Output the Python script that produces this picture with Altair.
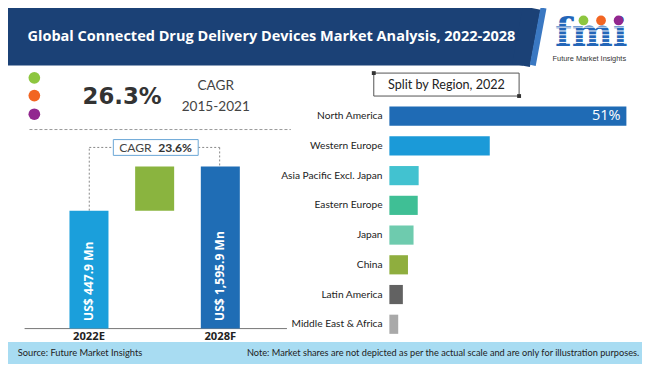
import altair as alt
import pandas as pd

# ---------------- data ----------------
title_text = "Global Connected Drug Delivery Devices Market Analysis, 2022-2028"
cagr_hist = "26.3%"
cagr_hist_label = "CAGR"
cagr_hist_period = "2015-2021"
cagr_fcst = "23.6%"

wf_order = ["2022E", "Growth", "2028F"]
wf_years = ["2022E", "2028F"]
wf_values = [447.9, 1595.9]
wf_value_text = ["US$ 447.9 Mn", "US$ 1,595.9 Mn"]
wf_colors = ["#1b9fdb", "#1f6db5"]
incr_color = "#8ab43f"

regions = ["North America", "Western Europe", "Asia Pacific Excl. Japan",
           "Eastern Europe", "Japan", "China", "Latin America", "Middle East & Africa"]
shares = [51, 21.6, 6.3, 6.1, 5.2, 4.0, 2.9, 1.9]
share_text = ["51%", "", "", "", "", "", "", ""]
region_colors = ["#1f6bb5", "#1b9ad8", "#42c2d0", "#3fbf95",
                 "#6ecbae", "#8fae3e", "#626262", "#a9a9a9"]

source_text = "Source: Future Market Insights"
note_text = "Note: Market shares are not depicted as per the actual scale and are only for illustration purposes."

# ---------------- layout helpers ----------------
W, H = 634, 356
SX, SY = W / 650, H / 372
def X(v): return round(v * SX, 2)
def Y(v): return round(v * SY, 2)
def F(v): return round(v * 0.97, 1)

one = pd.DataFrame({"k": [0]})
SANS = "Lato"

def txt(s, x, y, size, color="#333333", weight="normal", align="center",
        font=SANS, baseline="middle"):
    return alt.Chart(one).mark_text(
        text=s, fontSize=F(size), color=color, fontWeight=weight, align=align,
        font=font, baseline=baseline
    ).encode(x=alt.value(X(x)), y=alt.value(Y(y)))

def rule(x1, y1, x2, y2, color, width=1.0, dash=None, cap="butt"):
    kw = dict(color=color, strokeWidth=width, strokeCap=cap)
    if dash:
        kw["strokeDash"] = dash
    return alt.Chart(one).mark_rule(**kw).encode(
        x=alt.value(X(x1)), y=alt.value(Y(y1)), x2=alt.value(X(x2)), y2=alt.value(Y(y2)))

def rect(x1, y1, x2, y2, fill, stroke=None, sw=0):
    kw = dict(color=fill)
    if stroke:
        kw.update(stroke=stroke, strokeWidth=sw)
    return alt.Chart(one).mark_rect(**kw).encode(
        x=alt.value(X(x1)), y=alt.value(Y(y1)), x2=alt.value(X(x2)), y2=alt.value(Y(y2)))

def dot(x, y, d, color):
    return alt.Chart(one).mark_circle(size=(d * SX) ** 2, color=color, opacity=1).encode(
        x=alt.value(X(x)), y=alt.value(Y(y)))

# ---------------- header / footer ----------------
deco_back = [
    rect(0, 0, 528, 60, "#1b4176"),
    rule(537, 0, 526, 60, "#1b4176", 18),
    rule(549, 0, 538, 60, "#3a78c2", 6),
    rect(0, 349, 650, 372, "#a8dcf2"),
]

title = txt(title_text, 20, 30, 14.9, color="white", weight="bold", align="left", font="Open Sans")

logo = [
    txt("fmi", 598, 39.5, 40, color="#2366b8", weight="bold", font="DejaVu Serif", baseline="alphabetic"),
] + [rule(553, yy, 645, yy, "white", 1.0) for yy in (16, 20, 24, 28, 32, 36)] + [
    dot(590, 13, 10, "#8dc63f"),
    dot(608, 13, 10, "#f26522"),
    dot(626, 13, 10, "#92278f"),
    txt("Future Market Insights", 596, 53, 7.6, color="#333333", font="Liberation Sans"),
]

# ---------------- left panel decorations ----------------
left_deco = [
    dot(27, 73, 12, "#8dc63f"),
    dot(27, 91.5, 12, "#f26522"),
    dot(27, 111, 12, "#92278f"),
    txt(cagr_hist, 117, 93, 23.5, color="#333333", weight="bold", font="DejaVu Sans"),
    txt(cagr_hist_label, 213, 81, 14, color="#444444"),
    txt(cagr_hist_period, 213, 103, 14, color="#444444"),
    rule(22, 127, 290, 127, "#999999", 1, dash=[3, 2]),
    rule(83.3, 147, 83.3, 212, "#888888", 1, dash=[2, 2]),
    rule(83.3, 145.7, 108, 145.7, "#888888", 1, dash=[2, 2]),
    rule(195, 145.7, 217, 145.7, "#888888", 1, dash=[2, 2]),
    rule(217, 145.7, 217, 165, "#888888", 1, dash=[2, 2]),
    rect(108, 137.5, 195, 154, "white", stroke="#6aa7d6", sw=1),
    txt("CAGR", 114, 146, 12.5, color="#444444", align="left"),
    txt(cagr_fcst, 154, 146, 12.5, color="#333333", weight="bold", align="left"),
    rule(17, 335, 286, 335, "#777777", 1),
]

# ---------------- waterfall ----------------
wf_x = alt.Scale(domain=wf_order, range=[X(49.35), X(251.35)],
                 paddingInner=0.406, paddingOuter=0.203)
wf_y = alt.Scale(type="log", domain=[15.3, 1595.9], range=[Y(335), Y(165.7)], nice=False)

df_wf = pd.DataFrame({"year": wf_years, "value": wf_values,
                      "txt": wf_value_text, "color": wf_colors})
df_inc = pd.DataFrame({"year": ["Growth"], "from": [wf_values[0]], "to": [wf_values[1]]})

wf_bars = alt.Chart(df_wf).mark_bar().encode(
    x=alt.X("year:N", scale=wf_x, axis=None),
    y=alt.Y("value:Q", scale=wf_y, axis=None, stack=None),
    y2=alt.value(Y(335)),
    color=alt.Color("color:N", scale=None, legend=None),
)
wf_inc = alt.Chart(df_inc).mark_bar(color=incr_color).encode(
    x=alt.X("year:N", scale=wf_x, axis=None),
    y=alt.Y("to:Q", scale=wf_y, axis=None),
    y2="from:Q",
)
wf_vals = alt.Chart(df_wf).mark_text(
    angle=270, align="left", baseline="middle", color="white",
    fontWeight="bold", fontSize=F(12.5), font="Open Sans"
).encode(
    x=alt.X("year:N", scale=wf_x, axis=None),
    y=alt.value(Y(327)),
    text="txt:N",
)
wf_lbls = alt.Chart(df_wf).mark_text(
    baseline="middle", color="#222222", fontWeight="bold", fontSize=F(11.5), font="Open Sans"
).encode(
    x=alt.X("year:N", scale=wf_x, axis=None),
    y=alt.value(Y(344)),
    text="year:N",
)
waterfall = alt.layer(wf_bars, wf_inc, wf_vals, wf_lbls)

# ---------------- region bars ----------------
reg_x = alt.Scale(domain=[0, 51], range=[X(391), X(634)], nice=False, zero=True)
reg_y = alt.Scale(domain=regions, range=[Y(97.5), Y(346)],
                  paddingInner=0.355, paddingOuter=0.1775)

df_reg = pd.DataFrame({"region": regions, "share": shares,
                       "label": share_text, "color": region_colors})

reg_bars = alt.Chart(df_reg).mark_bar().encode(
    x=alt.X("share:Q", scale=reg_x, axis=None),
    y=alt.Y("region:N", scale=reg_y, axis=None),
    color=alt.Color("color:N", scale=None, legend=None),
)
reg_lbls = alt.Chart(df_reg).mark_text(
    align="right", baseline="middle", color="#222222", fontSize=F(10.5), font=SANS
).encode(
    x=alt.value(X(384)),
    y=alt.Y("region:N", scale=reg_y, axis=None),
    text="region:N",
)
reg_pct = alt.Chart(df_reg).mark_text(
    align="right", baseline="middle", color="white", fontSize=F(15), font="Open Sans"
).encode(
    x=alt.value(X(628)),
    y=alt.Y("region:N", scale=reg_y, axis=None),
    text="label:N",
)
region_chart = alt.layer(reg_bars, reg_lbls, reg_pct)

right_deco = [
    rect(375, 68, 524, 92, "white", stroke="#555555", sw=1),
    rect(373, 66, 377, 70, "#333333"),
    rect(522, 90, 526, 94, "#333333"),
    txt("Split by Region, 2022", 449.5, 80, 13, color="#222222", font=SANS),
]

footer = [
    txt(source_text, 10, 361, 9.6, color="#222222", align="left", font=SANS),
    txt(note_text, 245, 361, 9.5, color="#222222", align="left", font=SANS),
]

chart = alt.layer(
    *deco_back, title, *logo, *left_deco, waterfall, region_chart, *right_deco, *footer
).resolve_scale(
    x="independent", y="independent", color="independent"
).properties(
    width=W, height=H, autosize="none", padding=0, background="white"
).configure_view(stroke=None)

chart.save("out.html", embed_options={"renderer": "svg", "actions": False})
